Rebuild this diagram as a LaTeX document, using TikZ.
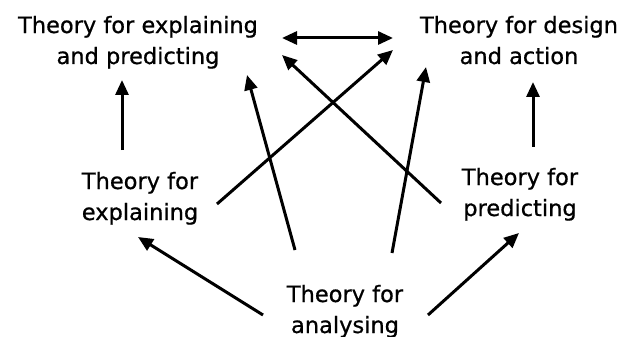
\documentclass[tikz,border=0pt]{standalone}
\usepackage{fontspec}
\setmainfont{DejaVu Sans}
\newfontfamily\lblfont{DejaVu Sans}[FakeBold=0.7]
\usetikzlibrary{arrows.meta}
\begin{document}
\begin{tikzpicture}[x=1pt,y=-1pt,
  lbl/.style={align=center,anchor=base,inner sep=0pt,font=\lblfont\fontsize{22.5}{31}\selectfont},
  conn/.style={line width=3pt,-{Triangle[length=15pt,width=13pt]}},
  dconn/.style={line width=3pt,{Triangle[length=15pt,width=13pt]}-{Triangle[length=15pt,width=13pt]}}]
\useasboundingbox (0,0) rectangle (622,337);
\node[lbl] (ep) at (138,64) {Theory for explaining\\and predicting};
\node[lbl] (da) at (519,64) {Theory for design\\and action};
\node[lbl] (ex) at (140,220) {Theory for\\explaining};
\node[lbl] (pr) at (520,216) {Theory for\\predicting};
\node[lbl] (an) at (345,333) {Theory for\\analysing};
% connector end points
\coordinate (epR) at (282,38);
\coordinate (daL) at (393,38);
\coordinate (epS) at (122,80);
\coordinate (exN) at (122,150);
\coordinate (daS) at (533,82);
\coordinate (prN) at (533,147);
\coordinate (exE) at (217,204);
\coordinate (daW) at (393,50);
\coordinate (prW) at (441,203);
\coordinate (epE) at (282,55);
\coordinate (anA) at (295,250);
\coordinate (epSE) at (247,75);
\coordinate (anB) at (392,253);
\coordinate (daSW) at (426,67);
\coordinate (anW) at (263,315);
\coordinate (exS) at (138,237);
\coordinate (anE) at (428,315);
\coordinate (prS) at (519,233);
\draw[dconn] (epR) -- (daL);
\draw[conn] (exN) -- (epS);
\draw[conn] (prN) -- (daS);
\draw[conn] (exE) -- (daW);
\draw[conn] (prW) -- (epE);
\draw[conn] (anA) -- (epSE);
\draw[conn] (anB) -- (daSW);
\draw[conn] (anW) -- (exS);
\draw[conn] (anE) -- (prS);
\end{tikzpicture}
\end{document}
